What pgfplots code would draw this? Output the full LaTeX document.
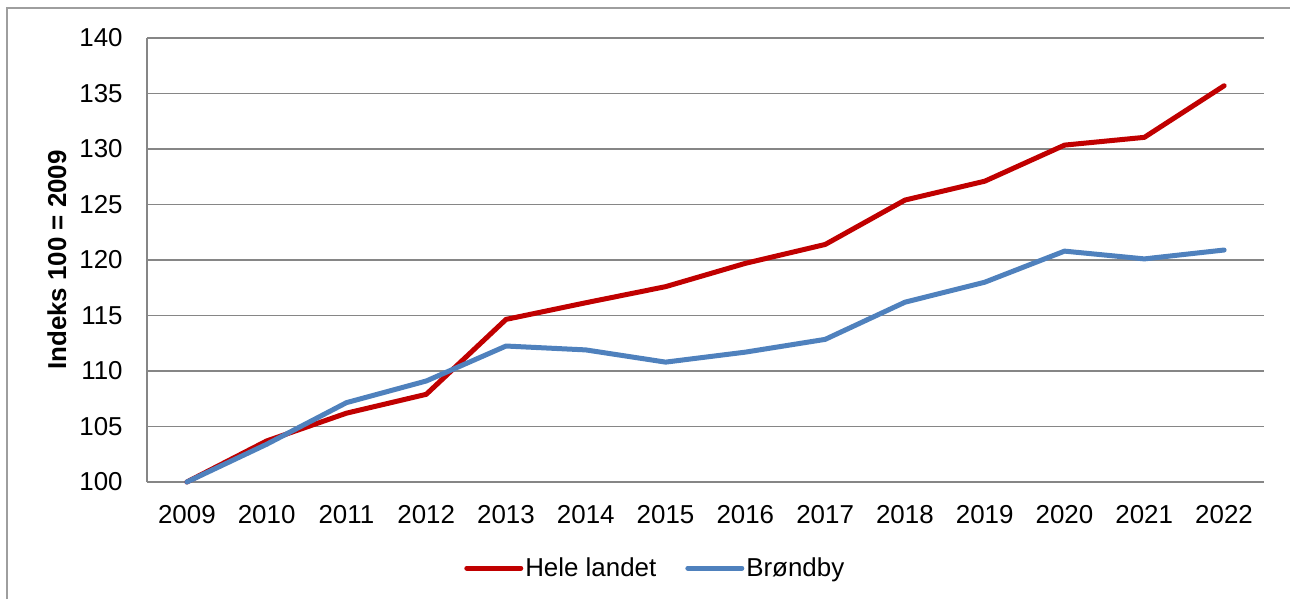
\documentclass[border=0pt]{standalone}
\usepackage{fontspec}
\setmainfont{Liberation Sans}
\usepackage{pgfplots}
\pgfplotsset{compat=1.18}
\definecolor{redl}{RGB}{192,0,0}
\definecolor{bluel}{RGB}{79,129,189}
\definecolor{gridc}{RGB}{134,134,134}
\begin{document}
\begin{tikzpicture}[x=1bp,y=1bp]
\path[use as bounding box] (0,0) rectangle (645,299.5);
\draw[gridc!80, line width=0.7bp] (3.5,0) -- (3.5,295.5) -- (645,295.5);
\begin{axis}[
  at={(73.5bp,58.5bp)}, anchor=south west,
  scale only axis, width=558.5bp, height=222bp,
  xmin=2008.5, xmax=2022.5, ymin=100, ymax=140,
  ytick={100,105,...,140}, xtick={2009,...,2022},
  axis lines=left,
  axis line style={-, draw=gridc, line width=0.75bp},
  ymajorgrids, grid style={draw=gridc, line width=0.75bp},
  major tick length=0pt, tick style={draw=none},
  /pgf/number format/assume math mode=true,
  /pgf/number format/1000 sep={},
  ticklabel style={font=\fontsize{13}{15}\selectfont, inner sep=0pt},
  yticklabel style={anchor=east, xshift=-12bp},
  xticklabel style={anchor=north, yshift=-11.5bp},
  every axis y label/.style={at={(axis description cs:-0.0806,0.5)}, rotate=90, anchor=center},
  ylabel={\bfseries Indeks 100 = 2009},
  ylabel style={font=\bfseries\fontsize{13}{15}\selectfont},
  clip=false,
  legend style={at={(0.455,-0.194)}, anchor=center, draw=none, fill=none,
    font=\fontsize{13}{15}\selectfont, legend columns=2,
    /tikz/every even column/.append style={column sep=13.5bp},
    nodes={inner sep=1bp}},
  legend cell align=left,
  legend image code/.code={\draw[#1, line cap=round] (0bp,0bp) -- (27bp,0bp);},
]
\addplot[redl, line width=2.5bp, line join=round, line cap=round] coordinates {
(2009,100) (2010,103.7) (2011,106.2) (2012,107.9) (2013,114.65) (2014,116.15) (2015,117.6)
(2016,119.7) (2017,121.4) (2018,125.4) (2019,127.1) (2020,130.35) (2021,131.05) (2022,135.7)};
\addlegendentry{Hele landet}
\addplot[bluel, line width=2.5bp, line join=round, line cap=round] coordinates {
(2009,100) (2010,103.4) (2011,107.15) (2012,109.1) (2013,112.25) (2014,111.9) (2015,110.8)
(2016,111.7) (2017,112.85) (2018,116.2) (2019,118.0) (2020,120.8) (2021,120.1) (2022,120.9)};
\addlegendentry{Brøndby}
\end{axis}
\end{tikzpicture}
\end{document}
